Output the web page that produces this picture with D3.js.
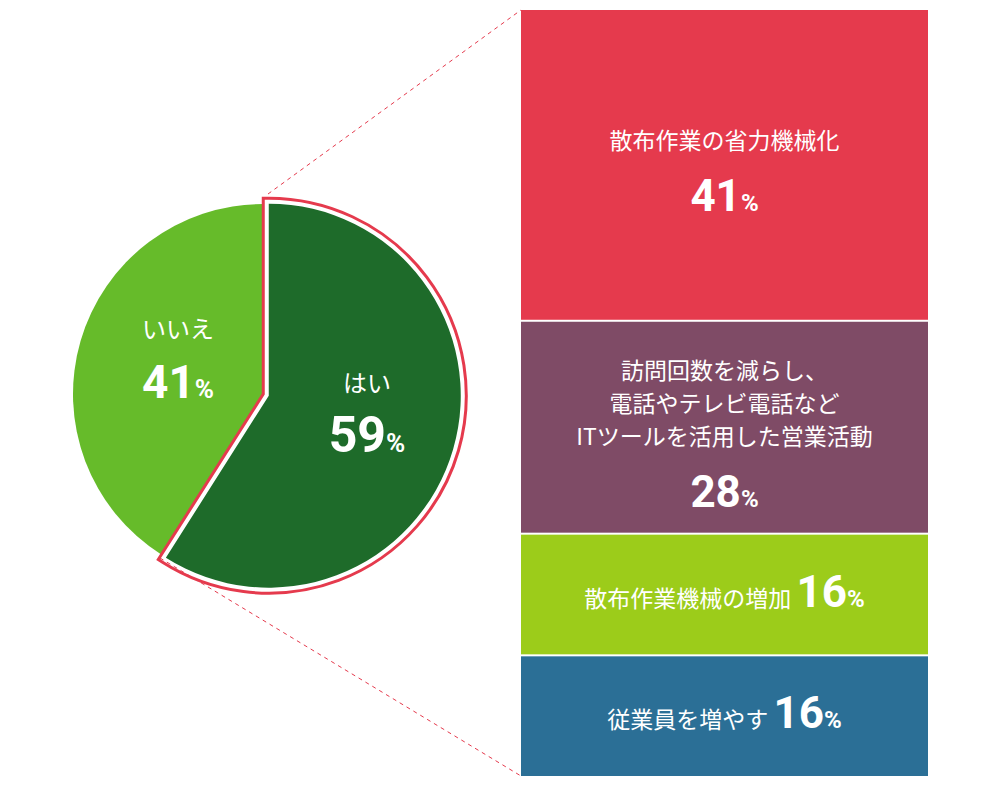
<!DOCTYPE html><html><head><meta charset="utf-8"><script src="https://cdn.jsdelivr.net/npm/d3@7"></script>
<style>body{margin:0;background:#fff}</style></head><body><svg id="c" width="1000" height="785"></svg>
<script>
const pieLabels=["はい","いいえ"];
const pieValues=[59,41];
const pieColors=["#1e6b2a","#66bb2a"];
const barLabels=[["散布作業の省力機械化"],["訪問回数を減らし、","電話やテレビ電話など","ITツールを活用した営業活動"],["散布作業機械の増加"],["従業員を増やす"]];
const barValues=[41,28,16,16];
const barColors=["#e53a4d","#7f4b66","#9ccc1a","#2b6f96"];
const inline=[false,false,true,true];

(function(){
const svg=d3.select("#c");
const jp="'Noto Sans CJK JP',sans-serif", num="'Liberation Sans Narrow','Roboto',sans-serif";
const cx=263,cy=394,r=190;
const arcs=d3.pie().sort(null)(pieValues);
const arc=d3.arc().innerRadius(0).outerRadius(r);
svg.append("path").attr("transform",`translate(${cx},${cy})`).attr("d",arc(arcs[1])).attr("fill",pieColors[1]);
const mid=(arcs[0].startAngle+arcs[0].endAngle)/2, off=6;
const g=svg.append("g").attr("transform",`translate(${cx+off*Math.sin(mid)},${cy-off*Math.cos(mid)})`);
const darc=d3.arc().innerRadius(0).outerRadius(r+2);
g.append("path").attr("d",darc(arcs[0])).attr("fill","none").attr("stroke","#e53a4d").attr("stroke-width",14).attr("stroke-linejoin","miter");
g.append("path").attr("d",darc(arcs[0])).attr("fill",pieColors[0]).attr("stroke","#fff").attr("stroke-width",8).attr("stroke-linejoin","miter");
g.append("path").attr("d",darc(arcs[0])).attr("fill",pieColors[0]);
const pl=[[367,392],[178,338]];
pieLabels.forEach((t,i)=>{
 svg.append("text").attr("x",pl[i][0]).attr("y",pl[i][1]).attr("text-anchor","middle").attr("fill","#fff").attr("font-family",jp).attr("font-size",24).text(t);
 const tt=svg.append("text").attr("x",pl[i][0]).attr("y",pl[i][1]+60).attr("text-anchor","middle").attr("fill","#fff").attr("font-family",num).attr("font-weight","bold");
 tt.append("tspan").attr("font-size",i==0?50:46).text(pieValues[i]);
 tt.append("tspan").attr("font-size",26).text("%");
});
const x0=521,x1=928,yTop=10,yBot=776,gap=2;
const total=d3.sum(barValues);
const y=d3.scaleLinear().domain([0,total]).range([yTop,yBot+gap]);
let acc=0;
svg.append("line").attr("x1",268).attr("y1",194).attr("x2",x0).attr("y2",yTop).attr("stroke","#e53a4d").attr("stroke-dasharray","4,4");
svg.append("line").attr("x1",160).attr("y1",558).attr("x2",x0).attr("y2",yBot).attr("stroke","#e53a4d").attr("stroke-dasharray","4,4");
barValues.forEach((v,i)=>{
 const ya=y(acc), yb=y(acc+v)-gap; acc+=v;
 svg.append("rect").attr("x",x0).attr("y",ya).attr("width",x1-x0).attr("height",yb-ya).attr("fill",barColors[i]);
 const xm=(x0+x1)/2, ym=(ya+yb)/2;
 if(inline[i]){
  const t=svg.append("text").attr("x",xm).attr("y",ym+12).attr("text-anchor","middle").attr("fill","#fff");
  t.append("tspan").attr("font-family",jp).attr("font-size",23).text(barLabels[i][0]+" ");
  t.append("tspan").attr("font-family",num).attr("font-weight","bold").attr("font-size",44).text(v);
  t.append("tspan").attr("font-family",num).attr("font-weight","bold").attr("font-size",24).text("%");
 } else {
  const n=barLabels[i].length, lh=33;
  const startY=ym-(n*lh+50)/2+26;
  barLabels[i].forEach((l,j)=>svg.append("text").attr("x",xm).attr("y",startY+j*lh).attr("text-anchor","middle").attr("fill","#fff").attr("font-family",jp).attr("font-size",23).text(l));
  const t=svg.append("text").attr("x",xm).attr("y",startY+n*lh+29).attr("text-anchor","middle").attr("fill","#fff").attr("font-family",num).attr("font-weight","bold");
  t.append("tspan").attr("font-size",44).text(v);
  t.append("tspan").attr("font-size",24).text("%");
 }
});
})();
</script></body></html>
